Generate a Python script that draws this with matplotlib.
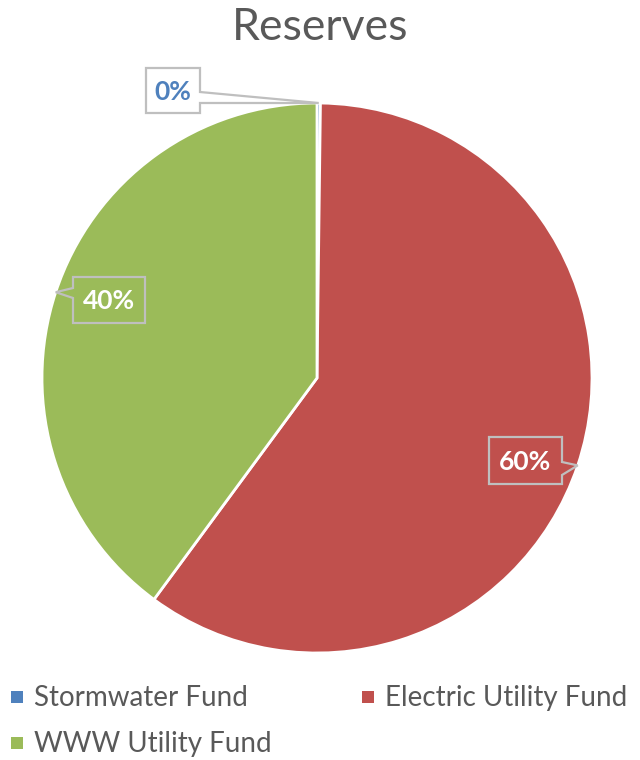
import matplotlib
matplotlib.use("Agg")
import matplotlib.pyplot as plt
from matplotlib.patches import Polygon, Rectangle
import numpy as np

# chart data
categories = ["Stormwater Fund", "Electric Utility Fund", "WWW Utility Fund"]
values = [0.2, 59.9, 39.9]
pct_labels = ["0%", "60%", "40%"]
colors = ["#4F81BD", "#C0504D", "#9BBB59"]

W, H = 640, 760
plt.rcParams["font.family"] = ["Lato", "DejaVu Sans"]

fig = plt.figure(figsize=(W / 100, H / 100), dpi=100)
ax = fig.add_axes([0, 0, 1, 1])

cx, cy, R = 317, H - 378, 275
wedges, _ = ax.pie(values, colors=colors, startangle=90, counterclock=False,
                   center=(cx, cy), radius=R,
                   wedgeprops=dict(edgecolor="white", linewidth=2))
ax.set_xlim(0, W)
ax.set_ylim(0, H)
ax.set_aspect("equal")
ax.axis("off")

ax.text(W / 2, H - 40, "Reserves", ha="center", va="baseline",
        fontsize=32, color="#595959")


def callout(wedge, text, box, side, base, fill, tcolor):
    # box / base in screen pixels (y down); tip sits on the wedge's mid angle
    th = np.deg2rad((wedge.theta1 + wedge.theta2) / 2)
    tx, ty = cx + R * np.cos(th), cy + R * np.sin(th)
    x0, y0, x1, y1 = box
    b0, b1 = base
    if side == "left":
        pts = [(x0, y0), (x1, y0), (x1, y1), (x0, y1), (x0, b1), None, (x0, b0)]
    else:
        pts = [(x0, y0), (x1, y0), (x1, b0), None, (x1, b1), (x1, y1), (x0, y1)]
    verts = [(tx, ty) if p is None else (p[0], H - p[1]) for p in pts]
    ax.add_patch(Polygon(verts, closed=True, facecolor=fill,
                         edgecolor="#BFBFBF", linewidth=1.6, zorder=5))
    ax.text((x0 + x1) / 2, H - (y0 + y1) / 2 - 1, text, ha="center", va="center",
            fontsize=19, fontweight="bold", color=tcolor, zorder=6)


callout(wedges[0], pct_labels[0], (146, 68, 200, 113), "right", (92, 103),
        "white", colors[0])
callout(wedges[2], pct_labels[2], (73, 277, 145, 323), "left", (288, 298),
        colors[2], "white")
callout(wedges[1], pct_labels[1], (489, 437, 562, 484), "right", (462, 475),
        colors[1], "white")

# legend drawn by hand, row-wise like the original
leg_pos = [(11, 706), (362, 706), (11, 752)]  # square left x, text baseline y
for (lx, ly), name, col in zip(leg_pos, categories, colors):
    ax.add_patch(Rectangle((lx, H - ly + 3), 12, 12, facecolor=col,
                           edgecolor="none"))
    ax.text(lx + 23, H - ly, name, ha="left", va="baseline",
            fontsize=20, color="#595959")

fig.savefig("out.png", dpi=100)
